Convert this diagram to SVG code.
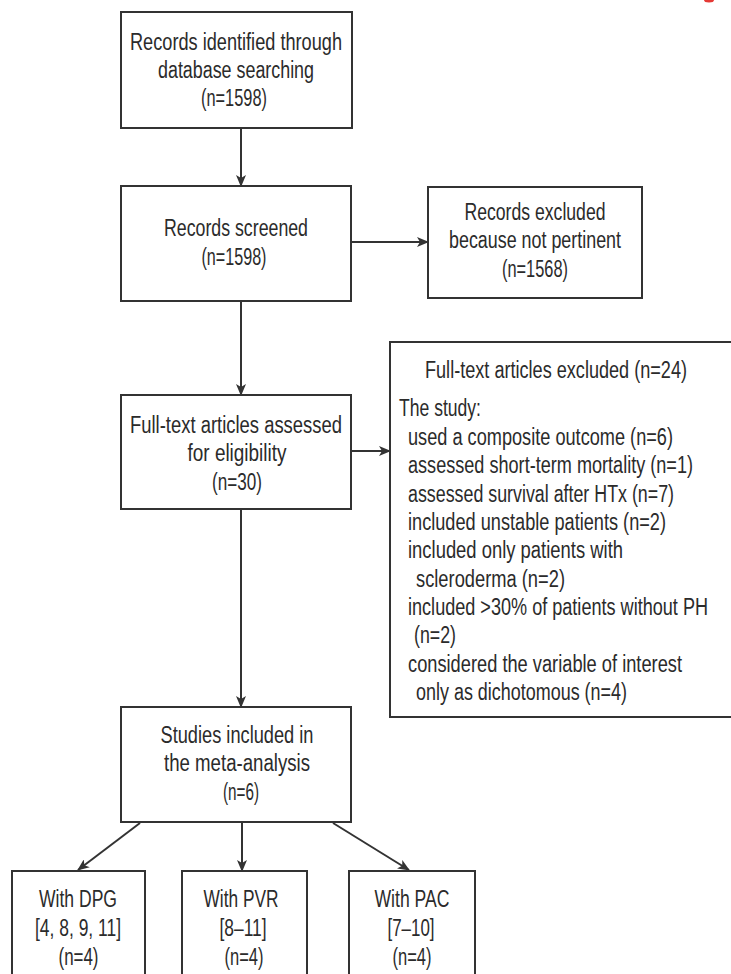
<svg xmlns="http://www.w3.org/2000/svg" width="731" height="974" viewBox="0 0 731 974">
<style>
.box{fill:#fff;stroke:#333;stroke-width:2}
.t{font-family:"Liberation Sans",Arial,sans-serif;font-size:23.5px;fill:#2b2b2b}
.c{text-anchor:middle}
.ln{stroke:#333;stroke-width:2;fill:none;marker-end:url(#ah)}
</style>
<defs>
<marker id="ah" viewBox="0 0 12 10" refX="11" refY="5" markerWidth="12" markerHeight="10" markerUnits="userSpaceOnUse" orient="auto">
<path d="M0,0 L12,5 L0,10 L3,5 z" fill="#333"/>
</marker>
</defs>
<rect width="731" height="974" fill="#fff"/>
<ellipse cx="709" cy="0" rx="5" ry="2.5" fill="#e53935"/>
<g id="connectors">
<line class="ln" x1="241" y1="128" x2="241" y2="186"/>
<line class="ln" x1="351" y1="242" x2="428" y2="242"/>
<line class="ln" x1="241" y1="301" x2="241" y2="395"/>
<line class="ln" x1="351" y1="451" x2="390" y2="451"/>
<line class="ln" x1="241" y1="509" x2="241" y2="707"/>
<line class="ln" x1="140" y1="823" x2="78" y2="870"/>
<line class="ln" x1="242" y1="823" x2="242" y2="871"/>
<line class="ln" x1="333" y1="823" x2="409" y2="870"/>
</g>
<g id="n1">
<rect class="box" x="121" y="12" width="231" height="116"/>
<text class="t c" x="236" y="50" textLength="212" lengthAdjust="spacingAndGlyphs">Records identified through</text>
<text class="t c" x="236" y="78" textLength="156" lengthAdjust="spacingAndGlyphs">database searching</text>
<text class="t c" x="234" y="106" textLength="66" lengthAdjust="spacingAndGlyphs">(n=1598)</text>
</g>
<g id="n2">
<rect class="box" x="121" y="186" width="230" height="115"/>
<text class="t c" x="236" y="236" textLength="144" lengthAdjust="spacingAndGlyphs">Records screened</text>
<text class="t c" x="234" y="265" textLength="65" lengthAdjust="spacingAndGlyphs">(n=1598)</text>
</g>
<g id="n3">
<rect class="box" x="428" y="187" width="214" height="111"/>
<text class="t c" x="535" y="220" textLength="141" lengthAdjust="spacingAndGlyphs">Records excluded</text>
<text class="t c" x="535" y="248" textLength="172" lengthAdjust="spacingAndGlyphs">because not pertinent</text>
<text class="t c" x="535" y="277" textLength="66" lengthAdjust="spacingAndGlyphs">(n=1568)</text>
</g>
<g id="n4">
<rect class="box" x="121" y="395" width="230" height="114"/>
<text class="t c" x="236" y="433" textLength="212" lengthAdjust="spacingAndGlyphs">Full-text articles assessed</text>
<text class="t c" x="237" y="461" textLength="99" lengthAdjust="spacingAndGlyphs">for eligibility</text>
<text class="t c" x="237" y="490" textLength="50" lengthAdjust="spacingAndGlyphs">(n=30)</text>
</g>
<g id="n5">
<path class="box" d="M731,342 H390 V717 H731"/>
<text class="t" x="425" y="378" textLength="262" lengthAdjust="spacingAndGlyphs">Full-text articles excluded (n=24)</text>
<text class="t" x="399" y="416" textLength="82" lengthAdjust="spacingAndGlyphs">The study:</text>
<text class="t" x="408" y="445" textLength="265" lengthAdjust="spacingAndGlyphs">used a composite outcome (n=6)</text>
<text class="t" x="408" y="473" textLength="285" lengthAdjust="spacingAndGlyphs">assessed short-term mortality (n=1)</text>
<text class="t" x="408" y="501.5" textLength="266" lengthAdjust="spacingAndGlyphs">assessed survival after HTx (n=7)</text>
<text class="t" x="408" y="530" textLength="258" lengthAdjust="spacingAndGlyphs">included unstable patients (n=2)</text>
<text class="t" x="408" y="558" textLength="215" lengthAdjust="spacingAndGlyphs">included only patients with</text>
<text class="t" x="416" y="586.5" textLength="149" lengthAdjust="spacingAndGlyphs">scleroderma (n=2)</text>
<text class="t" x="408" y="615" textLength="300" lengthAdjust="spacingAndGlyphs">included &gt;30% of patients without PH</text>
<text class="t" x="414" y="643" textLength="42" lengthAdjust="spacingAndGlyphs">(n=2)</text>
<text class="t" x="408" y="671.5" textLength="274" lengthAdjust="spacingAndGlyphs">considered the variable of interest</text>
<text class="t" x="416" y="700" textLength="211" lengthAdjust="spacingAndGlyphs">only as dichotomous (n=4)</text>
</g>
<g id="n6">
<rect class="box" x="121" y="707" width="230" height="115"/>
<text class="t c" x="237" y="743" textLength="153" lengthAdjust="spacingAndGlyphs">Studies included in</text>
<text class="t c" x="237" y="771" textLength="146" lengthAdjust="spacingAndGlyphs">the meta-analysis</text>
<text class="t c" x="241" y="800" textLength="36" lengthAdjust="spacingAndGlyphs">(n=6)</text>
</g>
<g id="n7">
<rect class="box" x="12" y="871" width="133" height="110"/>
<text class="t c" x="78" y="907" textLength="78" lengthAdjust="spacingAndGlyphs">With DPG</text>
<text class="t c" x="78" y="936" textLength="86" lengthAdjust="spacingAndGlyphs">[4, 8, 9, 11]</text>
<text class="t c" x="78.5" y="965" textLength="40" lengthAdjust="spacingAndGlyphs">(n=4)</text>
</g>
<g id="n8">
<rect class="box" x="182" y="871" width="125" height="110"/>
<text class="t c" x="241" y="907" textLength="75" lengthAdjust="spacingAndGlyphs">With PVR</text>
<text class="t c" x="243" y="936" textLength="47" lengthAdjust="spacingAndGlyphs">[8–11]</text>
<text class="t c" x="244" y="965" textLength="39" lengthAdjust="spacingAndGlyphs">(n=4)</text>
</g>
<g id="n9">
<rect class="box" x="349" y="871" width="126" height="110"/>
<text class="t c" x="412" y="907" textLength="75" lengthAdjust="spacingAndGlyphs">With PAC</text>
<text class="t c" x="411" y="936" textLength="47" lengthAdjust="spacingAndGlyphs">[7–10]</text>
<text class="t c" x="412" y="965" textLength="39" lengthAdjust="spacingAndGlyphs">(n=4)</text>
</g>
</svg>
